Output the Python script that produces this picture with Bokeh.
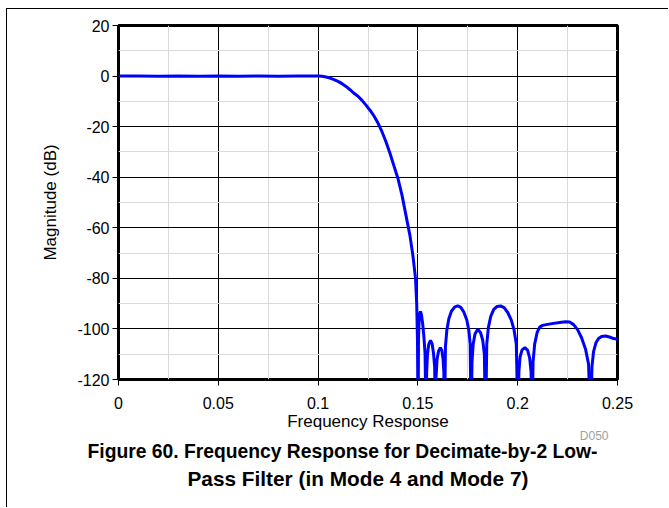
from bokeh.plotting import figure
from bokeh.models import FixedTicker, Range1d, NumeralTickFormatter, ColumnDataSource, Title
from bokeh.embed import file_html
from bokeh.resources import INLINE

# ---- data ----
passband_freq = [0.0, 0.01, 0.02, 0.03, 0.04, 0.05, 0.06, 0.07, 0.08, 0.09, 0.1]
passband_db = [0.0, 0.03, -0.03, 0.03, -0.03, 0.03, -0.03, 0.03, -0.03, 0.02, 0.0]

transition_freq = [0.102, 0.104, 0.106, 0.108, 0.110, 0.112, 0.114, 0.116, 0.118, 0.120,
                   0.122, 0.124, 0.126, 0.128, 0.130, 0.132, 0.134, 0.136, 0.138, 0.140,
                   0.142, 0.144, 0.146, 0.1475, 0.1488, 0.1494, 0.1498, 0.1501]
transition_db = [-0.1, -0.35, -0.8, -1.4, -2.1, -3.0, -4.1, -5.4, -6.8, -8.0,
                 -9.6, -11.5, -13.5, -15.8, -18.6, -22.0, -26.0, -30.5, -35.5, -40.5,
                 -47.0, -55.0, -63.0, -71.0, -80.0, -90.0, -105.0, -140.0]

stopband_freq = [
    0.1503, 0.1506, 0.1510, 0.1513, 0.1518, 0.1524, 0.1530, 0.1536, 0.1541,
    0.1544, 0.1548, 0.1554, 0.1563, 0.1571, 0.1578, 0.1584, 0.1588,
    0.1591, 0.1596, 0.1604, 0.1613, 0.1620, 0.1626, 0.1630, 0.1633,
    0.1638, 0.1645, 0.1655, 0.1668, 0.1685, 0.1700, 0.1715, 0.1730, 0.1745, 0.1755, 0.1762, 0.1767,
    0.1771, 0.1777, 0.1786, 0.1800, 0.1814, 0.1825, 0.1833, 0.1839,
    0.1845, 0.1853, 0.1865, 0.1880, 0.1897, 0.1914, 0.1932, 0.1950, 0.1968, 0.1982, 0.1993, 0.2002,
    0.2006, 0.2012, 0.2022, 0.2036, 0.2050, 0.2060, 0.2067, 0.2072,
    0.2077, 0.2085, 0.2097, 0.2110, 0.2125, 0.2150, 0.2180, 0.2210, 0.2240, 0.2260, 0.2280,
    0.2300, 0.2320, 0.2340, 0.2355, 0.2366,
    0.2372, 0.2380, 0.2392, 0.2405, 0.2420, 0.2440, 0.2460, 0.2480, 0.2500]
stopband_db = [
    -104.0, -97.0, -93.8, -93.1, -94.5, -98.0, -103.0, -110.0, -140.0,
    -117.0, -110.0, -106.2, -104.5, -105.8, -109.5, -115.0, -140.0,
    -119.0, -112.0, -108.6, -107.4, -108.5, -112.0, -117.0, -140.0,
    -107.0, -100.5, -96.0, -93.0, -91.3, -90.9, -91.5, -93.3, -96.5, -100.5, -106.0, -140.0,
    -113.0, -106.0, -102.0, -100.1, -101.5, -104.5, -110.0, -140.0,
    -106.0, -99.5, -95.0, -92.3, -91.1, -90.9, -91.6, -93.5, -96.5, -100.5, -106.0, -140.0,
    -117.0, -111.0, -108.3, -107.4, -108.5, -111.5, -117.0, -140.0,
    -113.0, -106.0, -101.5, -99.3, -98.6, -98.2, -97.8, -97.5, -97.2, -97.3, -98.3,
    -100.3, -103.5, -108.0, -114.0, -140.0,
    -115.0, -109.0, -105.5, -103.8, -103.0, -102.8, -103.2, -103.8, -104.1]

x_ticks = [0.0, 0.05, 0.1, 0.15, 0.2, 0.25]
x_minor = [0.025, 0.075, 0.125, 0.175, 0.225]
y_ticks = [-120, -100, -80, -60, -40, -20, 0, 20]
y_minor = [-110, -90, -70, -50, -30, -10, 10]
y_tick_labels = ["-120", "-100", "-80", "-60", "-40", "-20", "0", "20"]

x_label = "Frequency Response"
y_label = "Magnitude (dB)"
caption_1 = "Figure 60. Frequency Response for Decimate-by-2 Low-"
caption_2 = "Pass Filter (in Mode 4 and Mode 7)"
code_label = "D050"

freq = passband_freq + transition_freq + stopband_freq
mag = passband_db + transition_db + stopband_db

FONT = "Liberation Sans"

p = figure(width=662, height=499, output_backend="svg", toolbar_location=None,
           x_range=Range1d(0, 0.25), y_range=Range1d(-120, 20),
           min_border_left=111, min_border_right=52, min_border_top=16,
           min_border_bottom=129)
p.styles = {"border-left": "1px solid black", "border-top": "1px solid black",
            "margin-left": "6px", "margin-top": "8px"}

p.background_fill_color = "white"
p.border_fill_color = "white"
p.outline_line_color = "black"
p.outline_line_width = 3

p.xaxis.ticker = FixedTicker(ticks=x_ticks, minor_ticks=x_minor)
p.yaxis.ticker = FixedTicker(ticks=y_ticks, minor_ticks=y_minor)
p.xaxis.formatter = NumeralTickFormatter(format="0.[00]")
p.yaxis.major_label_overrides = {t: s for t, s in zip(y_ticks, y_tick_labels)}

for g in (p.xgrid, p.ygrid):
    g.grid_line_color = "black"
    g.grid_line_width = 1
    g.minor_grid_line_color = "#d9d9d9"
    g.minor_grid_line_width = 1

for ax in (p.xaxis, p.yaxis):
    ax.axis_line_color = None
    ax.major_tick_in = 0
    ax.major_tick_out = 6
    ax.major_tick_line_color = "black"
    ax.minor_tick_in = 0
    ax.minor_tick_out = 0
    ax.major_label_text_font = FONT
    ax.major_label_text_font_size = "16px"
    ax.major_label_text_color = "black"
    ax.axis_label_text_font = FONT
    ax.axis_label_text_font_size = "17px"
    ax.axis_label_text_font_style = "normal"
    ax.axis_label_text_color = "black"

p.xaxis.axis_label = x_label
p.yaxis.axis_label = y_label
p.xaxis.major_label_standoff = 11
p.yaxis.major_label_standoff = 3
p.xaxis.axis_label_standoff = 0
p.yaxis.axis_label_standoff = 14

src = ColumnDataSource(dict(f=freq, db=mag))
p.line("f", "db", source=src, line_color="#0000ff", line_width=3)

p.add_layout(Title(text=code_label, align="right", offset=9, standoff=-18,
                   text_font=FONT, text_font_size="12px", text_font_style="normal",
                   text_color="#a0a0a0"), "below")
p.add_layout(Title(text=caption_1, align="left", offset=-31, standoff=10,
                   text_font=FONT, text_font_size="19.3px", text_font_style="bold",
                   text_color="black"), "below")
p.add_layout(Title(text=caption_2, align="left", offset=69, standoff=-4,
                   text_font=FONT, text_font_size="20.8px", text_font_style="bold",
                   text_color="black"), "below")

open("out.html", "w").write(file_html(p, INLINE))
